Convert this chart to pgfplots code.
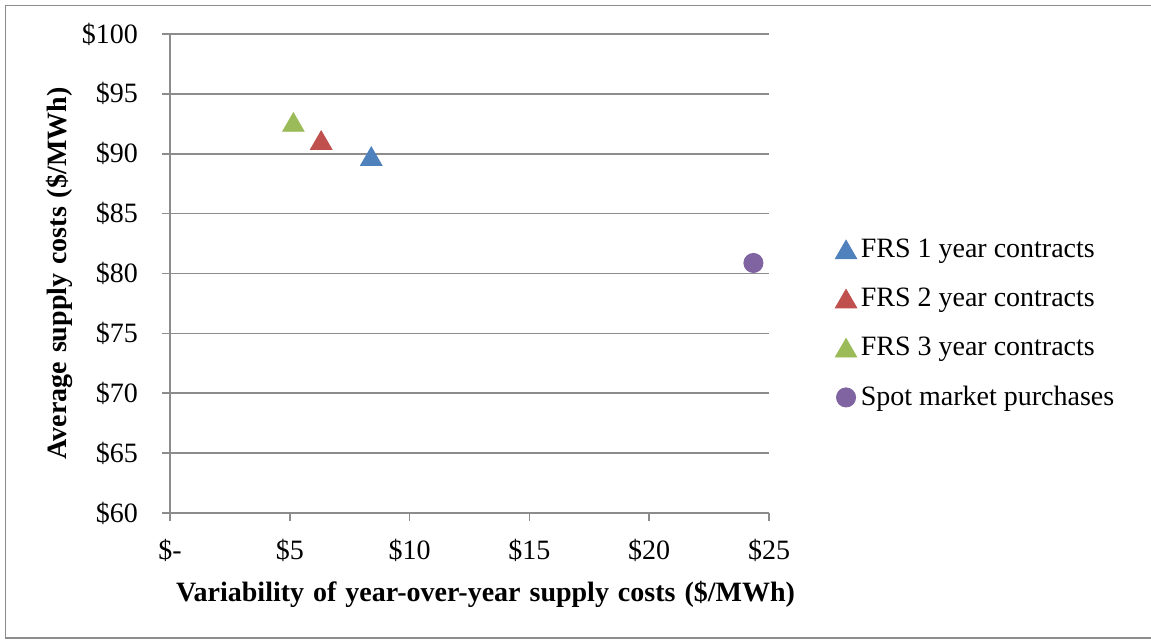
\documentclass[border=0pt]{standalone}
\usepackage{fontspec}
\setmainfont{Liberation Serif}
\usepackage{pgfplots}
\pgfplotsset{compat=1.18}

\definecolor{xlblue}{HTML}{4F81BD}
\definecolor{xlred}{HTML}{C0504D}
\definecolor{xlgreen}{HTML}{9BBB59}
\definecolor{xlpurple}{HTML}{8064A2}
\definecolor{gridgray}{HTML}{8C8C8C}

\newcommand{\wsp}{\ \hspace{1pt}}

\begin{document}
\begin{tikzpicture}[x=0.5pt,y=0.5pt]
% page extent (plot box origin at lower left)
\useasboundingbox (-170,-126) rectangle (981,479+34);
% outer frame
\draw[gridgray,line width=0.9pt] (1000,479+28.5) -- (-164.5,479+28.5) -- (-164.5,-125) -- (1000,-125);
\begin{axis}[
  at={(0,0)}, anchor=south west,
  scale only axis,
  width=299.5pt, height=239.5pt,
  xmin=0, xmax=25, ymin=60, ymax=100,
  xtick={0,5,...,25},
  ytick={60,65,...,100},
  xticklabels={\$-,\$5,\$10,\$15,\$20,\$25},
  yticklabel={\$\pgfmathprintnumber{\tick}},
  /pgf/number format/assume math mode=true,
  axis x line*=bottom, axis y line*=left,
  axis line style={gridgray,line width=0.8pt,-},
  ymajorgrids,
  grid style={gridgray,line width=0.8pt},
  tick style={gridgray,line width=0.8pt},
  tick align=outside,
  major tick length=4pt,
  tick label style={font=\fontsize{14}{16}\selectfont,text=black},
  xticklabel style={yshift=-5.5pt},
  yticklabel style={xshift=-8.5pt},
  xlabel={\textbf{Variability\wsp of\wsp year-over-year\wsp supply\wsp costs\wsp (\$/MWh)}},
  ylabel={\textbf{Average\wsp supply\wsp costs\wsp (\$/MWh)}},
  label style={font=\fontsize{14}{16}\selectfont},
  xlabel style={yshift=-3pt, xshift=8pt},
  ylabel style={yshift=-2pt},
  legend style={
    at={(1.1,0.59)}, anchor=north west,
    draw=none, fill=none,
    font=\fontsize{14}{16}\selectfont,
    row sep=9.8pt,
    legend cell align=left,
  },
  legend image code/.code={\draw[#1] plot coordinates {(0pt,0pt)};},
  clip=false,
]
\addplot[only marks, mark=triangle*, mark size=6.2pt, mark options={yshift=-1.5pt}, color=xlblue]
  coordinates {(8.40,89.79)};
\addlegendentry{FRS 1 year contracts}
\addplot[only marks, mark=triangle*, mark size=6.2pt, mark options={yshift=-1.5pt}, color=xlred]
  coordinates {(6.31,91.13)};
\addlegendentry{FRS 2 year contracts}
\addplot[only marks, mark=triangle*, mark size=6.2pt, mark options={yshift=-1.5pt}, color=xlgreen]
  coordinates {(5.15,92.64)};
\addlegendentry{FRS 3 year contracts}
\addplot[only marks, mark=*, mark size=4.8pt, color=xlpurple]
  coordinates {(24.35,80.88)};
\addlegendentry{Spot market purchases}
\end{axis}
\end{tikzpicture}
\end{document}
